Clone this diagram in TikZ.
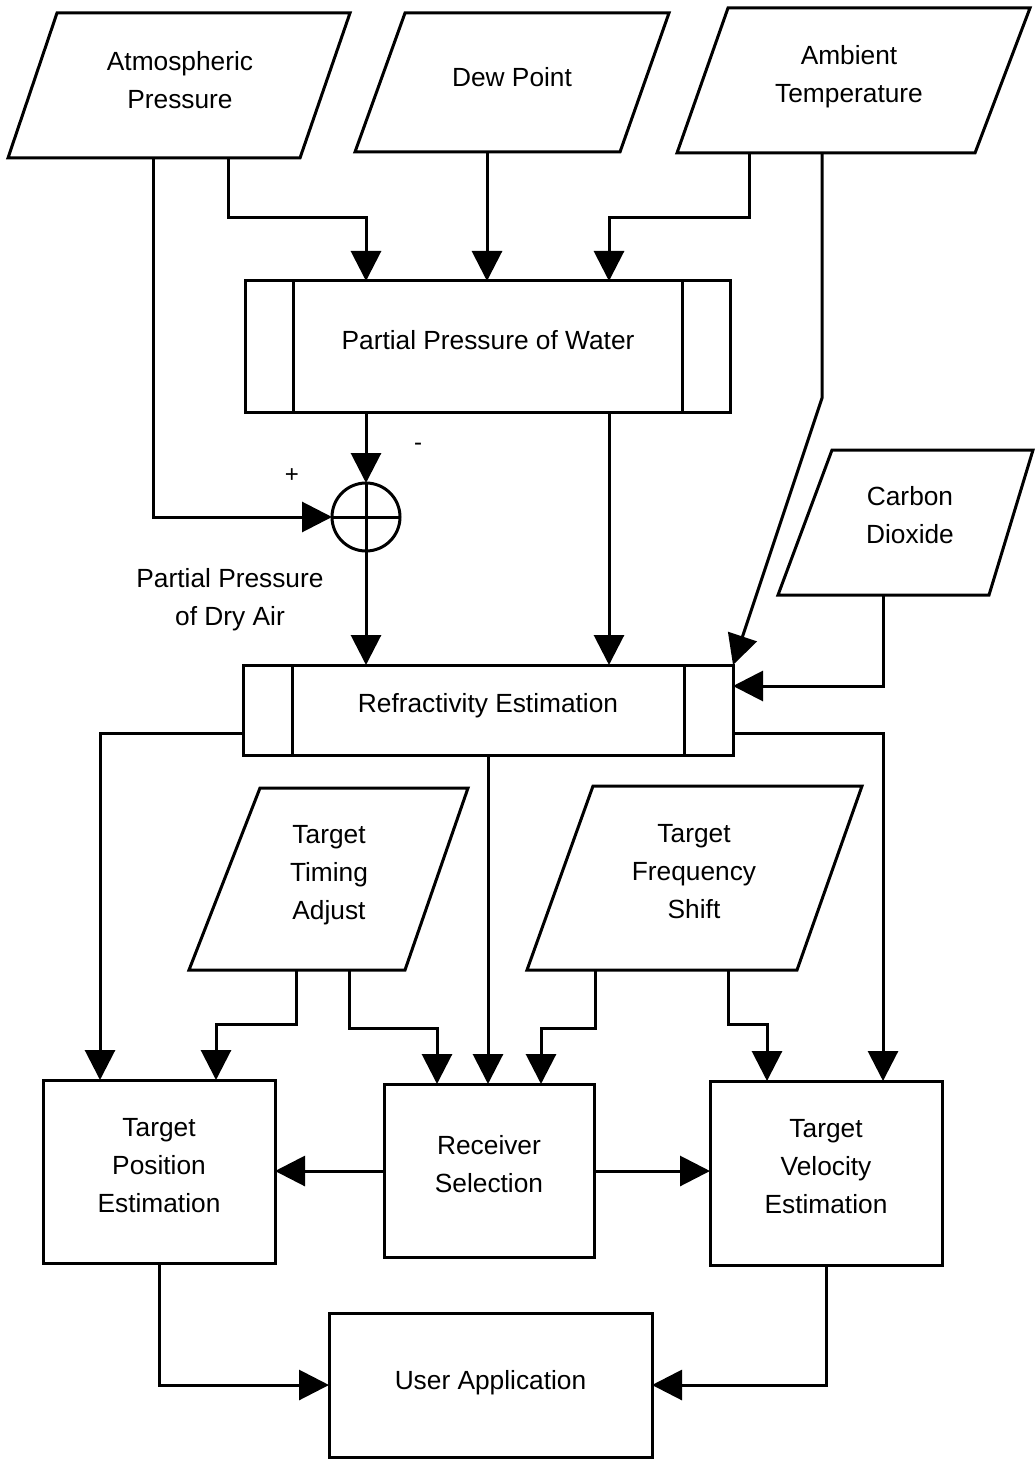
\documentclass[tikz,border=0pt]{standalone}
\usepackage{fontspec}
\setmainfont{Liberation Sans}
\usetikzlibrary{arrows.meta}
\begin{document}
\begin{tikzpicture}[x=0.5pt,y=-0.5pt,
  line width=1.5pt, line join=miter,
  lbl/.style={font=\fontsize{13.15}{19}\selectfont, align=center, inner sep=0pt},
  small/.style={font=\fontsize{12}{14}\selectfont, inner sep=0pt},
  box/.style={draw, rectangle, inner sep=0pt, outer sep=0pt},
  io/.style={draw},
  arr/.style={-{Triangle[length=15pt,width=15pt]}}
]
\useasboundingbox (0,0) rectangle (1034,1460);

% ---- input data (parallelograms) ----
\draw[io] (57,13) -- (350,13) -- (300,158) -- (8,158) -- cycle;
\node[lbl] (ap) at (180,80) {Atmospheric\\Pressure};
\coordinate (ap-o1) at (153,158);
\coordinate (ap-o2) at (228,158);

\draw[io] (405,13) -- (669,13) -- (620,152) -- (355,152) -- cycle;
\node[lbl] (dp) at (512,77) {Dew Point};
\coordinate (dp-o) at (487,152);

\draw[io] (728,8) -- (1030,8) -- (975,153) -- (677,153) -- cycle;
\node[lbl] (at) at (849,77) {Ambient\\Temperature};
\coordinate (at-o1) at (749,153);
\coordinate (at-o2) at (822,153);

\draw[io] (832,450) -- (1033,450) -- (989,595) -- (778,595) -- cycle;
\node[lbl] (co) at (910,515) {Carbon\\Dioxide};
\coordinate (co-o) at (883,595);

\draw[io] (260,788) -- (468,788) -- (405,970) -- (189,970) -- cycle;
\node[lbl] (tta) at (329,875) {Target\\Timing\\Adjust};
\coordinate (tta-o1) at (296,970);
\coordinate (tta-o2) at (349,970);

\draw[io] (593,786) -- (862,786) -- (797,970) -- (527,970) -- cycle;
\node[lbl] (tfs) at (694,872) {Target\\Frequency\\Shift};
\coordinate (tfs-o1) at (595,970);
\coordinate (tfs-o2) at (728,970);

% ---- predefined processes ----
\node[box, minimum width=242.5pt, minimum height=65.5pt] (ppw) at (487.5,346.5) {};
\draw ([xshift=24pt]ppw.north west) -- ([xshift=24pt]ppw.south west);
\draw ([xshift=-24pt]ppw.north east) -- ([xshift=-24pt]ppw.south east);
\node[lbl] (ppw-t) at (488,340) {Partial Pressure of Water};

\node[box, minimum width=245pt, minimum height=45pt] (re) at (488,710) {};
\draw ([xshift=24.5pt]re.north west) -- ([xshift=24.5pt]re.south west);
\draw ([xshift=-24.5pt]re.north east) -- ([xshift=-24.5pt]re.south east);
\node[lbl] (re-t) at (488,706) {Refractivity Estimation};

% ---- summing junction ----
\node[draw, circle, minimum size=34pt, inner sep=0pt, outer sep=0pt] (sum) at (366,517) {};
\draw (sum.north) -- (sum.south);
\draw (sum.west) -- (sum.east);
\node[small] (plus) at (292,476) {+};
\node[small] (minus) at (418,447) {-};
\node[lbl] (pda) at (230,600) {Partial Pressure\\of Dry Air};

% ---- processes ----
\node[box, minimum width=116pt, minimum height=91.5pt] (tpe) at (159,1171.5) {};
\node[lbl] (tpe-t) at (159,1166) {Target\\Position\\Estimation};
\node[box, minimum width=105pt, minimum height=86.5pt] (rs) at (489,1170.5) {};
\node[lbl] (rs-t) at (489,1164) {Receiver\\Selection};
\node[box, minimum width=116pt, minimum height=92pt] (tve) at (826,1173) {};
\node[lbl] (tve-t) at (826,1167) {Target\\Velocity\\Estimation};
\node[box, minimum width=161.5pt, minimum height=72pt] (ua) at (490.5,1385) {};
\node[lbl] (ua-t) at (490.5,1383) {User Application};

% ---- connectors ----
\draw[arr] (ap-o1) |- (sum.west);
\draw[arr] (ap-o2) -- (ap-o2 |- 0,218) -| (ppw.north -| sum.north);
\draw[arr] (dp-o) -- (dp-o |- ppw.north);
\draw[arr] (at-o1) -- (at-o1 |- 0,218) -| (ppw.north -| 609,0);
\draw[arr] (at-o2) -- (at-o2 |- 0,398) -- (re.north east);
\draw[arr] (ppw.south -| sum.north) -- (sum.north);
\draw[arr] (sum.south) -- (re.north -| sum.south);
\draw[arr] (ppw.south -| 609,0) -- (re.north -| 609,0);
\draw[arr] (co-o) -- (co-o |- 0,686) -- (re.east |- 0,686);

\draw[arr] (re.west |- 0,733) -| (tpe.north -| 100,0);
\draw[arr] (re.south) -- (re.south |- rs.north);
\draw[arr] (re.east |- 0,733) -| (tve.north -| 883,0);

\draw[arr] (tta-o1) -- (tta-o1 |- 0,1024) -| (tpe.north -| 216,0);
\draw[arr] (tta-o2) -- (tta-o2 |- 0,1028) -| (rs.north -| 437,0);
\draw[arr] (tfs-o1) -- (tfs-o1 |- 0,1028) -| (rs.north -| 541,0);
\draw[arr] (tfs-o2) -- (tfs-o2 |- 0,1024) -| (tve.north -| 767,0);

\draw[arr] (rs.west |- 0,1171) -- (tpe.east |- 0,1171);
\draw[arr] (rs.east |- 0,1171) -- (tve.west |- 0,1171);

\draw[arr] (tpe.south) |- (ua.west |- 0,1385);
\draw[arr] (tve.south) |- (ua.east |- 0,1385);
\end{tikzpicture}
\end{document}
